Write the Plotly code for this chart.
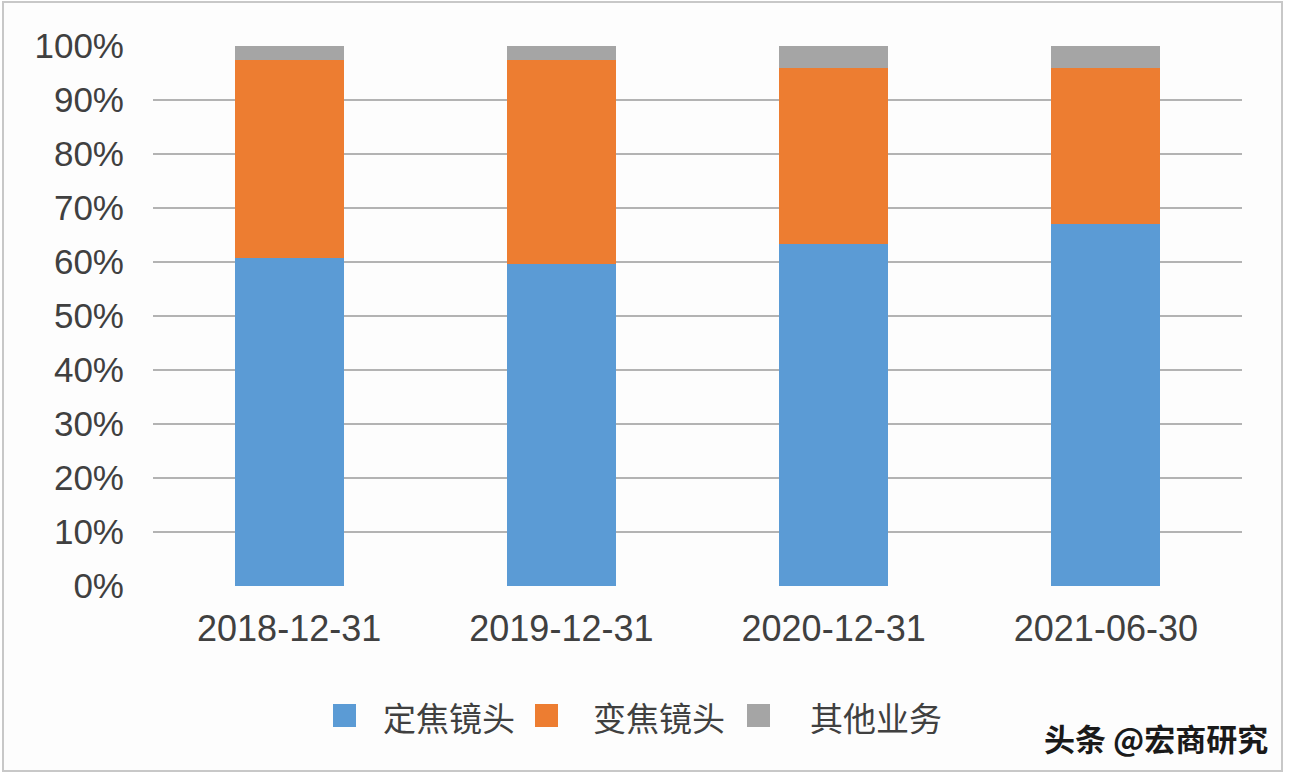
import plotly.graph_objects as go

categories = ["2018-12-31", "2019-12-31", "2020-12-31", "2021-06-30"]
series_names = ["定焦镜头", "变焦镜头", "其他业务"]
fixed_lens = [60.7, 59.7, 63.3, 67.0]
zoom_lens = [36.7, 37.7, 32.7, 29.0]
other_biz = [2.6, 2.6, 4.0, 4.0]
colors = ["#5B9BD5", "#ED7D31", "#A5A5A5"]
y_ticks = [0, 10, 20, 30, 40, 50, 60, 70, 80, 90, 100]
y_tick_labels = [f"{v}%" for v in y_ticks]

W, H = 1292, 776
L, R, T, B = 153, 50, 46, 190
PW, PH = W - L - R, H - T - B


def px(x):
    return (x - L) / PW


def py(y):
    return (H - B - y) / PH


fig = go.Figure()
for name, vals, col in zip(series_names, [fixed_lens, zoom_lens, other_biz], colors):
    fig.add_trace(go.Bar(x=categories, y=vals, name=name, marker=dict(color=col, line=dict(width=0)),
                         showlegend=False))

shapes = [
    dict(type="rect", xref="paper", yref="paper", x0=px(3), x1=px(1282), y0=py(771), y1=py(2),
         line=dict(color="#c8c8c8", width=2), fillcolor="#fdfdfd", layer="below")
]
annotations = []
legend_sq_x = [333, 535, 747]
legend_txt_x = [381, 591, 808]
for name, col, sx, tx in zip(series_names, colors, legend_sq_x, legend_txt_x):
    shapes.append(dict(type="rect", xref="paper", yref="paper", x0=px(sx), x1=px(sx + 23),
                       y0=py(727), y1=py(704), fillcolor=col, line=dict(width=0)))
    annotations.append(dict(text=name, xref="paper", yref="paper", x=px(tx), y=py(717),
                            xanchor="left", yanchor="middle", showarrow=False,
                            font=dict(family="Noto Sans CJK SC", size=33, color="#404040")))
annotations.append(dict(text="<b>头条 @宏商研究</b>", xref="paper", yref="paper", x=px(1270), y=py(737),
                        xanchor="right", yanchor="middle", showarrow=False,
                        font=dict(family="Noto Sans CJK SC", size=31, color="#1a1a1a")))

fig.update_layout(
    width=W, height=H, barmode="stack", bargap=0.6,
    margin=dict(l=L, r=R, t=T, b=B),
    paper_bgcolor="white", plot_bgcolor="rgba(0,0,0,0)",
    font=dict(family="Liberation Sans", color="#404040"),
    shapes=shapes, annotations=annotations,
    xaxis=dict(type="category", showgrid=False, showline=False, zeroline=False, ticks="",
               tickfont=dict(size=36, color="#404040"), ticklabelstandoff=18),
    yaxis=dict(range=[0, 100], tickvals=y_ticks, ticktext=y_tick_labels, showgrid=True,
               gridcolor="#b3b3b3", gridwidth=1.5, zeroline=False, showline=False, ticks="",
               tickfont=dict(size=35, color="#404040"), ticklabelstandoff=28),
)

fig.write_html("out.html")
